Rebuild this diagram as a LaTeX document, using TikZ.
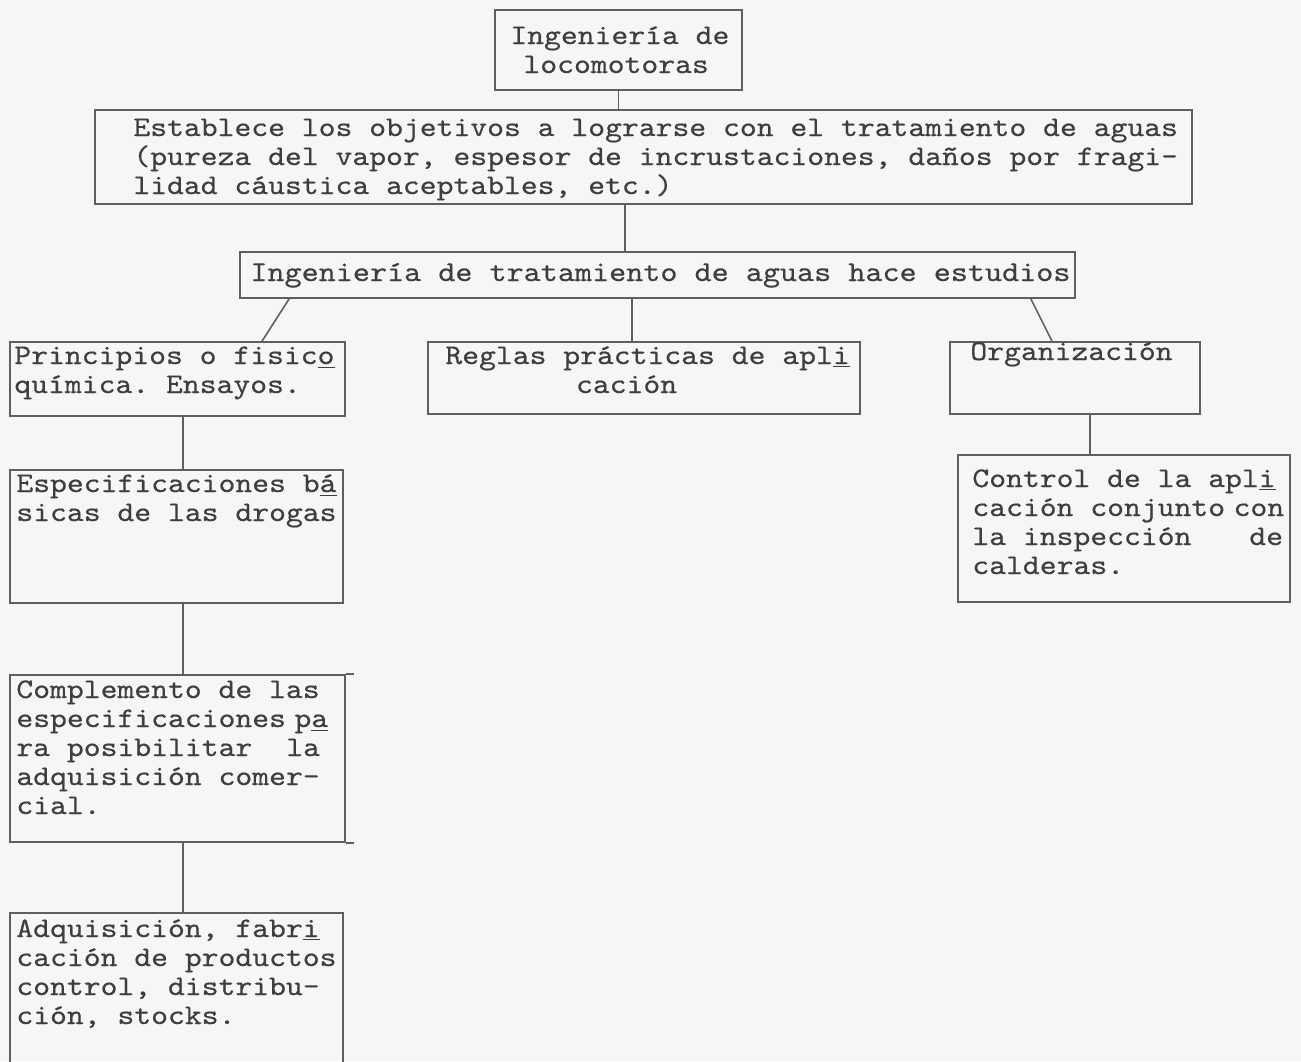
\documentclass[tikz,border=0pt]{standalone}
\usepackage{fontspec}
\setmonofont[FakeStretch=1.13,FakeBold=0.4]{lmmono10-regular.otf}
\usetikzlibrary{fit}
\definecolor{paper}{RGB}{246,246,244}
\definecolor{ink}{RGB}{62,62,62}
\definecolor{rulec}{RGB}{95,95,95}
\newcommand{\typed}[2]{\parbox[t]{#1}{\raggedright #2}}
\begin{document}
\begin{tikzpicture}[x=0.5pt,y=-0.5pt,
  boxst/.style={draw=rulec, line width=0.8pt, inner sep=0pt},
  txt/.style={anchor=base west, inner sep=0pt, text=ink, font=\ttfamily\fontsize{14.2}{14.5}\selectfont},
  conn/.style={draw=rulec, line width=0.8pt}]
\fill[paper] (0,0) rectangle (1301,1061);
\clip (0,0) rectangle (1301,1061);

% boxes
\node[boxst, fit={(495,10) (742,90)}] (loc) {};
\node[boxst, fit={(95,110) (1192,204)}] (obj) {};
\node[boxst, fit={(240,252) (1075,298)}] (est) {};
\node[boxst, fit={(10,342) (345,416)}] (pri) {};
\node[boxst, fit={(428,342) (860,414)}] (reg) {};
\node[boxst, fit={(950,342) (1200,414)}] (org) {};
\node[boxst, fit={(10,470) (343,603)}] (esp) {};
\node[boxst, fit={(10,675) (345,842)}] (com) {};
\node[boxst, fit={(10,913) (343,1090)}] (adq) {};
\node[boxst, fit={(958,455) (1290,602)}] (ctl) {};

% texts
\node[txt] (loc-t) at (510,44) {\typed{140pt}{Ingeniería de\\\hspace*{0.46em}locomotoras}};
\node[txt] (obj-t) at (133,136) {\typed{560pt}{Establece los objetivos a lograrse con el tratamiento de aguas\\(pureza del vapor, espesor de incrustaciones, daños por fragi-\\lidad cáustica aceptables, etc.)}};
\node[txt, font=\ttfamily\fontsize{14.4}{14.5}\selectfont] (est-t) at (250,281) {Ingeniería de tratamiento de aguas hace estudios};
\node[txt] (pri-t) at (14,364) {\typed{170pt}{Principios o fisic\underline{o}\\química. Ensayos.}};
\node[txt] (reg-t) at (445,364) {\typed{215pt}{Reglas prácticas de apl\underline{i}\\\hspace*{4.6em}cación}};
\node[txt] (org-t) at (970,360) {Organización};
\node[txt] (esp-t) at (16,492) {\typed{170pt}{Especificaciones b\underline{á}\\sicas de las drogas}};
\node[txt] (com-t) at (16,698) {\typed{170pt}{Complemento de las\\especificaciones\hspace{0.3em}p\underline{a}\\ra posibilitar\hspace{1.2em}la\\adquisición comer-\\cial.}};
\node[txt] (adq-t) at (16,937) {\typed{170pt}{Adquisición, fabr\underline{i}\\cación de productos\\control, distribu-\\ción, stocks.}};
\node[txt] (ctl-t) at (972,487) {\typed{170pt}{Control de la apl\underline{i}\\cación conjunto\hspace{0.3em}con\\la inspección\hspace{2.04em}de\\calderas.}};

% connectors
\draw[conn] (loc.south) -- (loc.south |- obj.north);
\draw[conn] ([xshift=-9.25pt]obj.south) -- ([xshift=-9.25pt]obj.south |- est.north);
\draw[conn] ([xshift=25pt]est.south west) -- ([xshift=42.25pt]pri.north);
\draw[conn] ([xshift=-12.75pt]est.south) -- ([xshift=-12.75pt]est.south |- reg.north);
\draw[conn] ([xshift=-22.5pt]est.south east) -- ([xshift=-11.5pt]org.north);
\draw[conn] ([xshift=2.75pt]pri.south) -- ([xshift=2.75pt]pri.south |- esp.north);
\draw[conn] ([xshift=3.25pt]esp.south) -- ([xshift=3.25pt]esp.south |- com.north);
\draw[conn] ([xshift=2.75pt]com.south) -- ([xshift=2.75pt]com.south |- adq.north);
\draw[conn] ([xshift=7.5pt]org.south) -- ([xshift=7.5pt]org.south |- ctl.north);
\draw[conn] (com.north east) -- ++(8,0);
\draw[conn] (com.south east) -- ++(8,0);
\end{tikzpicture}
\end{document}
